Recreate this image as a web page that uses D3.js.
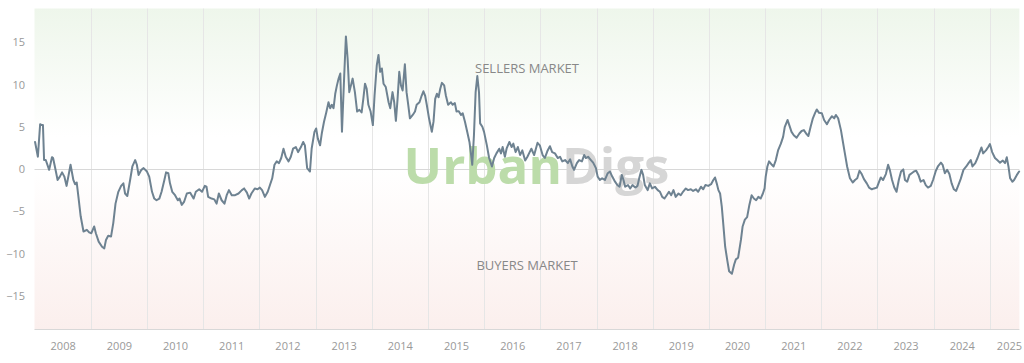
<!DOCTYPE html>
<html><head><meta charset="utf-8">
<script src="https://cdn.jsdelivr.net/npm/d3@7"></script>
<style>html,body{margin:0;padding:0;background:#fff;} svg{display:block;font-family:"Open Sans",sans-serif;}</style>
</head><body><svg id="c" width="1024" height="363"></svg>
<script>
// decimal years
const times = [
2008.01,2008.06,2008.10,2008.13,2008.15,2008.17,2008.20,2008.26,2008.31,2008.33,2008.38,2008.41,2008.45,2008.49,2008.53,2008.57,2008.64,2008.69,2008.72,2008.75,2008.78,2008.82,2008.87,2008.93,2008.97,
2009.01,2009.06,2009.09,2009.14,2009.20,2009.24,2009.27,2009.31,2009.36,2009.40,2009.44,2009.49,2009.54,2009.58,2009.61,2009.65,2009.70,2009.74,2009.79,2009.82,2009.85,2009.90,2009.94,
2010.00,2010.04,2010.09,2010.13,2010.17,2010.22,2010.26,2010.31,2010.34,2010.38,2010.41,2010.45,2010.50,2010.55,2010.58,2010.62,2010.66,2010.71,2010.77,2010.83,2010.87,2010.93,2010.98,
2011.03,2011.06,2011.09,2011.15,2011.20,2011.24,2011.28,2011.33,2011.38,2011.42,2011.46,2011.51,2011.57,2011.63,2011.69,2011.73,2011.78,2011.82,2011.86,2011.92,2011.97,
2012.01,2012.05,2012.10,2012.15,2012.19,2012.23,2012.27,2012.31,2012.35,2012.39,2012.43,2012.47,2012.52,2012.56,2012.60,2012.65,2012.69,2012.74,2012.78,2012.81,2012.85,2012.90,2012.93,2012.98,
2013.01,2013.04,2013.08,2013.11,2013.15,2013.19,2013.23,2013.26,2013.29,2013.32,2013.35,2013.38,2013.41,2013.44,2013.47,2013.51,2013.54,2013.57,2013.60,2013.63,2013.66,2013.70,2013.74,2013.78,2013.82,2013.85,2013.88,2013.91,2013.94,2013.98,
2014.02,2014.05,2014.09,2014.12,2014.15,2014.18,2014.21,2014.25,2014.30,2014.33,2014.37,2014.40,2014.43,2014.46,2014.49,2014.52,2014.55,2014.59,2014.62,2014.65,2014.68,2014.73,2014.77,2014.80,2014.85,2014.89,2014.92,2014.95,2014.98,
2015.02,2015.07,2015.10,2015.13,2015.16,2015.19,2015.22,2015.25,2015.29,2015.32,2015.36,2015.41,2015.44,2015.48,2015.51,2015.55,2015.59,2015.62,2015.66,2015.70,2015.74,2015.77,2015.79,2015.82,2015.85,2015.88,2015.91,2015.93,2015.97,
2016.00,2016.05,2016.09,2016.14,2016.18,2016.22,2016.27,2016.30,2016.33,2016.37,2016.40,2016.45,2016.49,2016.52,2016.56,2016.60,2016.64,2016.68,2016.73,2016.77,2016.81,2016.84,2016.89,2016.95,2016.99,
2017.04,2017.08,2017.13,2017.17,2017.21,2017.26,2017.31,2017.35,2017.39,2017.44,2017.49,2017.53,2017.57,2017.60,2017.65,2017.69,2017.74,2017.78,2017.81,2017.85,2017.90,2017.94,2017.99,
2018.02,2018.06,2018.10,2018.15,2018.20,2018.24,2018.28,2018.33,2018.37,2018.41,2018.45,2018.48,2018.51,2018.56,2018.60,2018.64,2018.69,2018.73,2018.76,2018.80,2018.83,2018.86,2018.91,2018.95,2018.99,
2019.04,2019.09,2019.13,2019.17,2019.21,2019.25,2019.29,2019.33,2019.37,2019.41,2019.46,2019.50,2019.54,2019.59,2019.63,2019.68,2019.72,2019.77,2019.81,2019.86,2019.90,2019.94,2019.99,
2020.04,2020.08,2020.11,2020.14,2020.17,2020.20,2020.23,2020.26,2020.29,2020.33,2020.36,2020.41,2020.45,2020.48,2020.52,2020.57,2020.60,2020.64,2020.68,2020.72,2020.76,2020.80,2020.84,2020.88,2020.92,2020.96,2020.99,
2021.01,2021.04,2021.07,2021.12,2021.15,2021.19,2021.23,2021.28,2021.32,2021.35,2021.40,2021.43,2021.47,2021.51,2021.56,2021.61,2021.65,2021.69,2021.73,2021.77,2021.81,2021.85,2021.89,2021.92,2021.96,
2022.01,2022.05,2022.10,2022.14,2022.19,2022.23,2022.26,2022.30,2022.35,2022.38,2022.42,2022.46,2022.51,2022.56,2022.60,2022.64,2022.68,2022.72,2022.76,2022.81,2022.85,2022.90,2022.94,2022.99,
2023.03,2023.06,2023.10,2023.15,2023.19,2023.22,2023.26,2023.30,2023.34,2023.38,2023.42,2023.46,2023.49,2023.53,2023.57,2023.61,2023.65,2023.69,2023.73,2023.77,2023.82,2023.86,2023.90,2023.95,2023.99,
2024.04,2024.08,2024.13,2024.16,2024.20,2024.24,2024.28,2024.32,2024.36,2024.40,2024.44,2024.48,2024.53,2024.58,2024.62,2024.66,2024.69,2024.74,2024.78,2024.81,2024.85,2024.88,2024.93,2024.97,
2025.00,2025.04,2025.09,2025.13,2025.18,2025.23,2025.27,2025.30,2025.33,2025.36,2025.40,2025.43,2025.48,2025.52
];
const values = [
3.2,1.45,5.3,5.2,5.2,1.06,1.06,-0.1,1.4,1.3,-0.3,-1.3,-0.9,-0.4,-0.9,-2.0,0.5,-1.3,-1.8,-1.6,-3.3,-5.6,-7.4,-7.2,-7.5,
-7.6,-6.8,-7.6,-8.6,-9.2,-9.4,-8.4,-7.9,-8.0,-6.4,-4.1,-2.7,-2.0,-1.7,-2.9,-3.2,-1.3,0.3,1.06,0.5,-0.7,-0.1,0.1,
-0.3,-0.9,-2.7,-3.5,-3.7,-3.5,-2.7,-1.3,-0.4,-0.5,-1.7,-2.7,-3.1,-3.7,-3.5,-4.25,-3.9,-2.9,-2.8,-3.5,-2.7,-2.4,-2.7,
-2.0,-2.1,-3.3,-3.5,-3.6,-4.1,-2.9,-3.7,-4.1,-3.1,-2.5,-3.1,-3.1,-2.9,-2.5,-2.3,-2.8,-3.5,-2.9,-2.3,-2.4,
-2.2,-2.5,-3.3,-2.7,-1.9,-1.1,0.5,0.9,0.7,1.3,2.4,1.45,0.9,1.45,2.4,2.6,2.0,2.6,3.2,2.8,0.1,-0.3,2.4,4.4,
4.8,3.6,2.8,4.2,5.6,6.7,7.9,7.2,7.6,7.2,8.9,9.9,10.7,11.3,4.4,11.1,15.7,13.1,9.1,9.9,10.7,9.1,6.8,7.0,6.7,8.3,10.1,9.5,7.6,6.8,
5.2,8.7,12.3,13.5,11.5,11.9,10.1,9.7,7.9,7.2,9.1,7.9,5.7,8.3,11.5,9.9,9.3,12.4,9.1,7.6,6.0,6.4,6.8,7.6,7.9,8.7,9.2,8.7,7.6,
6.0,4.4,5.6,8.3,8.9,8.5,9.5,10.2,9.9,8.7,7.6,7.9,7.6,7.8,6.8,6.85,6.4,6.6,5.6,4.4,3.2,1.65,0.5,4.0,9.1,11.0,9.1,5.4,5.0,
4.4,2.8,1.3,0.3,1.3,1.85,2.4,1.85,2.6,1.45,2.4,3.2,2.6,3.0,2.0,2.6,1.65,2.2,1.0,1.45,2.0,2.4,1.65,3.1,2.8,
1.65,1.3,2.2,2.7,2.0,1.85,1.3,1.45,0.9,1.06,0.7,1.15,0.3,-0.1,0.7,1.06,0.9,1.65,1.3,1.45,1.06,0.75,0.1,
-0.9,-1.3,-1.1,-1.3,-0.5,-0.3,-0.9,-1.5,-1.9,-2.1,-0.7,-1.3,-2.1,-1.9,-2.3,-1.9,-2.2,-2.0,-1.1,-0.1,-0.7,-1.9,-2.5,-1.7,-2.3,
-2.1,-2.5,-2.7,-3.3,-3.5,-3.1,-2.7,-3.1,-2.5,-3.3,-2.9,-3.1,-2.7,-2.3,-2.5,-2.4,-2.6,-2.4,-2.7,-2.1,-2.4,-1.9,-2.0,
-1.8,-1.3,-1.0,-1.7,-2.5,-2.9,-4.45,-6.8,-9.2,-10.9,-12.1,-12.4,-11.3,-10.7,-10.5,-8.4,-6.8,-6.0,-5.7,-4.25,-3.1,-3.5,-3.7,-3.3,-3.5,-2.9,-2.3,
-0.9,0.3,0.9,0.5,0.3,1.06,2.2,3.0,3.8,5.0,5.8,5.2,4.4,4.0,3.7,4.2,4.5,4.6,4.2,3.9,5.0,6.0,6.65,7.05,6.65,
6.6,5.8,5.3,5.8,6.25,6.0,6.4,6.0,4.6,3.4,1.85,0.3,-1.1,-1.6,-1.3,-1.1,-0.2,-0.6,-1.2,-1.7,-2.2,-2.4,-2.3,-2.2,
-1.5,-1.0,-1.3,-0.6,0.5,-0.1,-1.3,-2.2,-2.7,-1.3,-0.3,-0.05,-1.3,-1.5,-0.7,-0.5,-0.3,-0.2,-0.7,-1.5,-1.3,-1.9,-2.2,-2.0,-1.3,
-0.2,0.35,0.75,0.5,-0.5,-0.1,-0.6,-1.7,-2.4,-2.6,-1.9,-1.2,-0.1,0.3,0.7,1.06,0.3,0.7,1.3,1.85,2.55,1.85,2.2,2.6,
2.95,2.0,1.3,1.06,0.75,1.0,0.7,1.4,0.3,-1.1,-1.5,-1.3,-0.7,-0.3
];
const yTicks = [-15,-10,-5,0,5,10,15];
const yearLabels = [2008,2009,2010,2011,2012,2013,2014,2015,2016,2017,2018,2019,2020,2021,2022,2023,2024,2025];
const gridYears = [2009,2010,2011,2012,2013,2014,2015,2016,2017,2018,2019,2020,2021,2022,2023,2024,2025];
const yDomain = [-19,19];
const xDomainYears = [2008.0, 2025.525];

function toDate(t){
  const y = Math.floor(t);
  const s = Date.UTC(y,0,1), e = Date.UTC(y+1,0,1);
  return new Date(s + (t - y) * (e - s));
}
const data = times.map((t,i)=>({date: toDate(t), value: values[i]}));

const W = 1024;
const svg = d3.select("#c");
const L = 34.5, R = 1019.4, T = 8.5, B = 329.5;
const x = d3.scaleUtc().domain(xDomainYears.map(toDate)).range([L, R]);
const y = d3.scaleLinear().domain(yDomain).range([B, T]);

const defs = svg.append("defs");
const grad = defs.append("linearGradient").attr("id","bg").attr("x1",0).attr("y1",0).attr("x2",0).attr("y2",1);
grad.append("stop").attr("offset","0%").attr("stop-color","#eef6eb");
grad.append("stop").attr("offset","40%").attr("stop-color","#ffffff");
grad.append("stop").attr("offset","50%").attr("stop-color","#ffffff");
grad.append("stop").attr("offset","100%").attr("stop-color","#fbefed");

svg.append("rect").attr("x",L).attr("y",T).attr("width",R-L).attr("height",B-T).attr("fill","url(#bg)");

// vertical gridlines
svg.append("g").selectAll("line").data(gridYears).join("line")
  .attr("x1",d=>Math.round(x(toDate(d)))+0.5).attr("x2",d=>Math.round(x(toDate(d)))+0.5)
  .attr("y1",T).attr("y2",B).attr("stroke","#e6e6e6").attr("stroke-width",1);

// zero line
svg.append("line").attr("x1",L).attr("x2",R).attr("y1",Math.round(y(0))+0.5).attr("y2",Math.round(y(0))+0.5)
  .attr("stroke","#d8d8d8").attr("stroke-width",1);

// bottom axis line
svg.append("line").attr("x1",L).attr("x2",R).attr("y1",B).attr("y2",B).attr("stroke","#d8d8d8").attr("stroke-width",1);

// watermark
const wm = svg.append("text").attr("x",536.5).attr("y",184).attr("text-anchor","middle")
  .attr("font-family","'Open Sans',sans-serif").attr("font-weight",700).attr("font-size",51);
wm.append("tspan").attr("fill","#bcdcaa").text("Urban");
wm.append("tspan").attr("fill","#d6d6d6").text("Digs");

// market labels
svg.append("text").attr("x",527).attr("y",72.5).attr("text-anchor","middle").attr("fill","#888").attr("font-size",13).text("SELLERS MARKET");
svg.append("text").attr("x",527).attr("y",270).attr("text-anchor","middle").attr("fill","#888").attr("font-size",13).text("BUYERS MARKET");

// line
const line = d3.line().x(d=>x(d.date)).y(d=>y(d.value)).curve(d3.curveLinear);
svg.append("path").datum(data).attr("d",line).attr("fill","none").attr("stroke","#6e8291")
  .attr("stroke-width",2).attr("stroke-linejoin","round").attr("stroke-linecap","round");

// y axis labels
const yAxis = d3.axisLeft(y).tickValues(yTicks).tickSize(0).tickPadding(0);
const gy = svg.append("g").attr("transform","translate(25,0)").call(yAxis);
gy.select(".domain").remove();
gy.selectAll("text").attr("fill","#999").attr("font-size",11).attr("font-family","'Open Sans',sans-serif");

// x axis labels (centered in each year)
const xAxis = d3.axisBottom(x).tickValues(yearLabels.map(yy=>toDate(yy+0.5))).tickFormat(d=>String(d.getUTCFullYear())).tickSize(0).tickPadding(0);
const gx = svg.append("g").attr("transform","translate(0,346)").call(xAxis);
gx.select(".domain").remove();
gx.selectAll("text").attr("fill","#999").attr("font-size",11).attr("font-family","'Open Sans',sans-serif").attr("dy","0.32em");
// keep overflowing labels inside the chart (justify)
gx.selectAll(".tick").each(function(){
  const tk = d3.select(this);
  const bb = this.querySelector("text").getBBox();
  const tr = this.getAttribute("transform");
  const m = /translate\(([-\d.]+)/.exec(tr);
  const cx = m ? +m[1] : 0;
  const right = cx + bb.x + bb.width;
  if (right > W - 2) tk.select("text").attr("x", (W - 2) - right);
});
</script>
</body></html>
